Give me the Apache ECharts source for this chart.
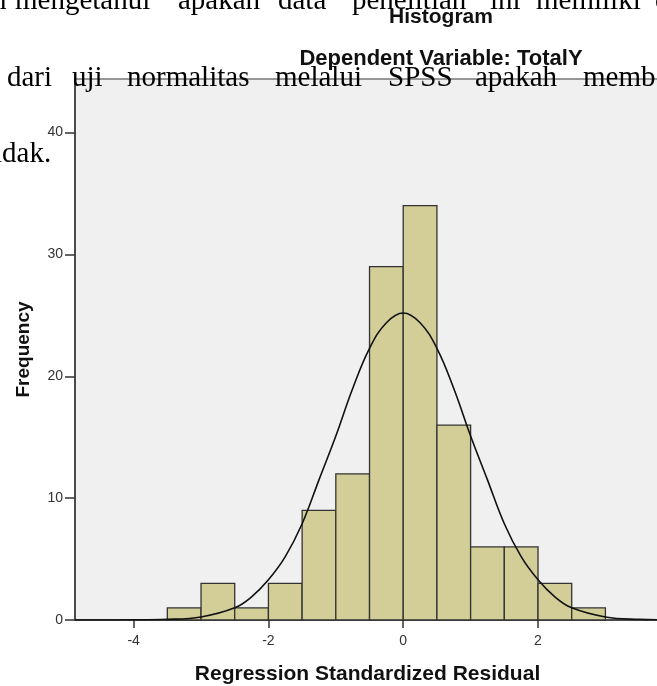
<!DOCTYPE html>
<html>
<head>
<meta charset="utf-8">
<script src="https://cdn.jsdelivr.net/npm/echarts@6/dist/echarts.min.js"></script>
<style>
  html, body { margin: 0; padding: 0; background: #fff; }
  #chart { width: 657px; height: 686px; }
</style>
</head>
<body>
<div id="chart"></div>
<script>
// histogram bins : left edge of each bin and its count (bin width 0.5)
var binLeft = [-3.5, -3, -2.5, -2, -1.5, -1, -0.5, 0, 0.5, 1, 1.5, 2, 2.5];
var binCount = [1, 3, 1, 3, 9, 12, 29, 34, 16, 6, 6, 3, 1];
var binWidth = 0.5;

// normal curve, points
var curveX = [-4.87, -4, -3.5, -3, -2.5, -2.25, -2, -1.75, -1.5, -1.25, -1, -0.75, -0.5, -0.25, 0,
              0.25, 0.5, 0.75, 1, 1.25, 1.5, 1.75, 2, 2.25, 2.5, 3, 3.5, 3.81];
var curveY = [0, 0.01, 0.05, 0.25, 1.0, 1.9, 3.3, 5.2, 7.9, 11.5, 15.1, 19.0, 22.3, 24.4, 25.2,
              24.4, 22.3, 19.0, 15.1, 11.5, 7.9, 5.2, 3.3, 1.9, 1.0, 0.25, 0.05, 0.02];

// tick labels
var xTicks = [-4, -2, 0, 2];
var yTicks = [0, 10, 20, 30, 40];

// texte du document qui passe derriere la capture
var line1 = ['n', 'mengetahui', 'apakah', 'data', 'penelitian', 'ini', 'memiliki', 'distribusi'];
var line2 = ['dari', 'uji', 'normalitas', 'melalui', 'SPSS', 'apakah', 'memb'];
var line3 = ['tidak.'];

var sans = '"Liberation Sans", Arial, sans-serif';
var serif = '"Liberation Serif", "Times New Roman", serif';

// position des mots (texte justifie)
var x1 = [-8, 15, 178, 278, 352, 490, 536, 655];
var x2 = [7, 72, 127, 275, 388, 475, 583];
var x3 = [-14];

function words(list, xs, y) {
    return list.map(function (w, i) {
        return {
            type: 'text', z: 100, silent: true,
            style: { text: w, x: xs[i], y: y, font: '29px ' + serif, fill: '#000',
                     textAlign: 'left', textVerticalAlign: 'middle' }
        };
    });
}

var chart = echarts.init(document.getElementById('chart'));
chart.setOption({
    animation: false,
    backgroundColor: '#fff',
    grid: {
        left: 75, right: -3, top: 79, bottom: 66,
        outerBoundsMode: 'none',
        show: true,
        backgroundColor: '#f0f0f0',
        borderColor: '#777',
        borderWidth: 1.5
    },
    xAxis: {
        type: 'value',
        min: -4.87, max: 3.81,
        name: 'Regression Standardized Residual',
        nameLocation: 'middle',
        nameGap: 44,
        nameTextStyle: { fontFamily: sans, fontWeight: 'bold', fontSize: 21, color: '#111' },
        axisLine: { show: true, onZero: false, lineStyle: { color: '#333', width: 1.5 } },
        axisTick: { show: true, customValues: xTicks, length: 8, lineStyle: { color: '#333', width: 1.5 } },
        axisLabel: { customValues: xTicks, fontFamily: sans, fontSize: 14, color: '#333', margin: 14 },
        splitLine: { show: false }
    },
    yAxis: {
        type: 'value',
        min: 0, max: 44.4,
        name: 'Frequency',
        nameLocation: 'middle',
        nameRotate: 90,
        nameGap: 42,
        nameTextStyle: { fontFamily: sans, fontWeight: 'bold', fontSize: 19, color: '#111' },
        axisLine: { show: true, onZero: false, lineStyle: { color: '#333', width: 1.5 } },
        axisTick: { show: true, customValues: yTicks, length: 10, lineStyle: { color: '#333', width: 1.5 } },
        axisLabel: { customValues: yTicks, fontFamily: sans, fontSize: 14, color: '#333', margin: 12 },
        splitLine: { show: false }
    },
    series: [
        {
            type: 'custom',
            data: binLeft.map(function (b, i) { return [b, binCount[i]]; }),
            encode: { x: 0, y: 1 },
            renderItem: function (params, api) {
                var start = api.value(0);
                var top = api.coord([start, api.value(1)]);
                var bottom = api.coord([start + binWidth, 0]);
                return {
                    type: 'rect',
                    shape: { x: top[0], y: top[1], width: bottom[0] - top[0], height: bottom[1] - top[1] },
                    style: { fill: '#d3ce97', stroke: '#333', lineWidth: 1.3 }
                };
            },
            z: 2
        },
        {
            type: 'line',
            data: curveX.map(function (x, i) { return [x, curveY[i]]; }),
            smooth: 0.4,
            showSymbol: false,
            symbol: 'none',
            lineStyle: { color: '#111', width: 1.6 },
            z: 3
        }
    ],
    graphic: [
        {
            type: 'text', z: 50, silent: true,
            style: { text: 'Histogram', x: 441, y: 17.5, font: 'bold 21px ' + sans, fill: '#111',
                     textAlign: 'center', textVerticalAlign: 'middle' }
        },
        {
            type: 'text', z: 50, silent: true,
            style: { text: 'Dependent Variable: TotalY', x: 441, y: 59, font: 'bold 22px ' + sans, fill: '#111',
                     textAlign: 'center', textVerticalAlign: 'middle' }
        }
    ].concat(words(line1, x1, 1), words(line2, x2, 78), words(line3, x3, 154))
});
</script>
</body>
</html>
